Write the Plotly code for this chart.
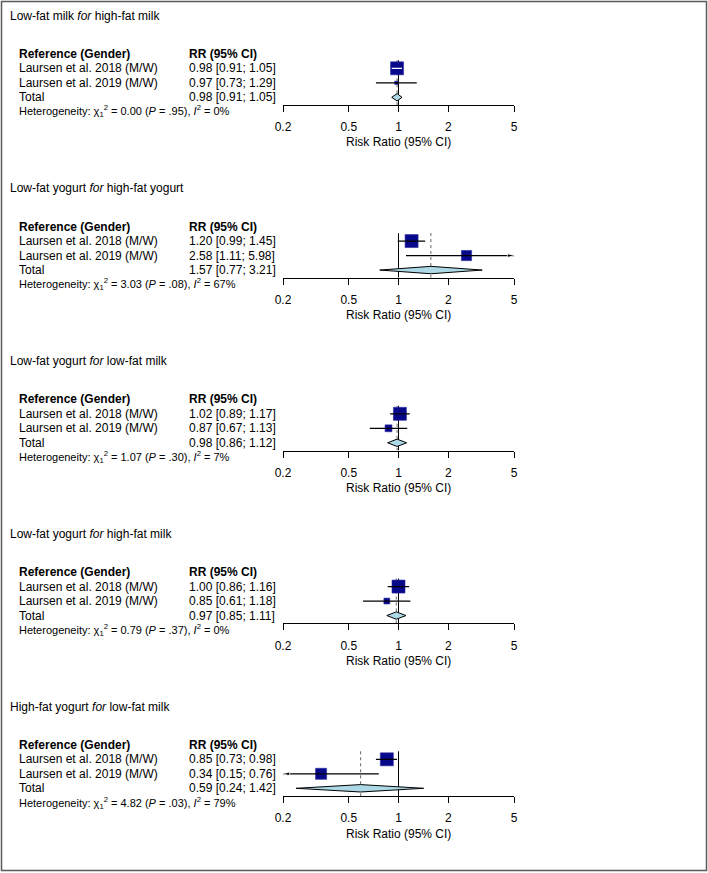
import math
import plotly.graph_objects as go

# ---------------- data ----------------
titles = [
    "Low-fat milk <i>for</i> high-fat milk",
    "Low-fat yogurt <i>for</i> high-fat yogurt",
    "Low-fat yogurt <i>for</i> low-fat milk",
    "Low-fat yogurt <i>for</i> high-fat milk",
    "High-fat yogurt <i>for</i> low-fat milk",
]
studies = ["Laursen et al. 2018 (M/W)", "Laursen et al. 2019 (M/W)"]
rr = [[0.98, 0.97], [1.20, 2.58], [1.02, 0.87], [1.00, 0.85], [0.85, 0.34]]
ci_lo = [[0.91, 0.73], [0.99, 1.11], [0.89, 0.67], [0.86, 0.61], [0.73, 0.15]]
ci_hi = [[1.05, 1.29], [1.45, 5.98], [1.17, 1.13], [1.16, 1.18], [0.98, 0.76]]
weights = [[94, 6], [62, 38], [78, 22], [83, 17], [58, 42]]
total_rr = [0.98, 1.57, 0.98, 0.97, 0.59]
total_lo = [0.91, 0.77, 0.86, 0.85, 0.24]
total_hi = [1.05, 3.21, 1.12, 1.11, 1.42]
chi2 = ["0.00", "3.03", "1.07", "0.79", "4.82"]
pvals = [".95", ".08", ".30", ".37", ".03"]
i2 = [0, 67, 7, 0, 79]
tick_vals = [0.2, 0.5, 1, 2, 5]
tick_text = ["0.2", "0.5", "1", "2", "5"]
axis_title = "Risk Ratio (95% CI)"
col_headers = ["Reference (Gender)", "RR (95% CI)"]

# ---------------- layout constants ----------------
W, H = 708, 873
FONT = "Liberation Sans, Arial, sans-serif"
PANEL_STEP = 172.75
ROW = 14.5            # px between rows
HEADER_PX = 53.8      # header row centre in panel 1
AXIS_PX = 105.0       # axis line in panel 1
X0_PX, X1_PX = 283, 514
XMIN, XMAX = 0.2, 5.0
SQ_MAX = 13.0
NAVY = "#08088a"
DIAMOND = "#add8e6"
TXT_PAD = 2           # annotation inner padding compensation


def px(v):
    return v / W


def py(v):
    return 1 - v / H


fig = go.Figure()
annotations = []
layout_axes = {}

y_top_val = -0.5
y_bot_val = 3 + (AXIS_PX - (HEADER_PX + 3 * ROW)) / ROW
log_span = math.log10(XMAX) - math.log10(XMIN)

for p in range(5):
    off = p * PANEL_STEP
    k = "" if p == 0 else str(p + 1)
    xa, ya = "x" + k, "y" + k
    top_px = HEADER_PX + off + y_top_val * ROW
    bot_px = AXIS_PX + off
    layout_axes["xaxis" + k] = dict(
        type="log", range=[math.log10(XMIN) - 1e-6, math.log10(XMAX) + 1e-6],
        domain=[px(X0_PX), px(X1_PX)], anchor=ya, automargin=False,
        showgrid=False, zeroline=False, showline=True, linecolor="black", linewidth=1,
        ticks="outside", ticklen=6, tickwidth=1, tickcolor="black",
        tickvals=tick_vals, ticktext=tick_text, ticklabelstandoff=5,
        tickfont=dict(family=FONT, size=12, color="black"),
        fixedrange=True,
    )
    layout_axes["yaxis" + k] = dict(
        domain=[py(bot_px), py(top_px)], range=[y_bot_val, y_top_val],
        visible=False, anchor=xa, fixedrange=True, automargin=False,
    )

    # reference lines
    y_line_top = 1 - 8 / ROW
    fig.add_trace(go.Scatter(x=[1, 1], y=[y_line_top, y_bot_val], mode="lines",
                             line=dict(color="black", width=1), xaxis=xa, yaxis=ya,
                             showlegend=False, hoverinfo="skip", cliponaxis=False))
    fig.add_trace(go.Scatter(x=[total_rr[p], total_rr[p]], y=[y_line_top, y_bot_val], mode="lines",
                             line=dict(color="#666666", width=1, dash="dot"), xaxis=xa, yaxis=ya,
                             showlegend=False, hoverinfo="skip", cliponaxis=False))

    # diamond for total
    h = 3.7 / ROW
    fig.add_trace(go.Scatter(
        x=[total_lo[p], total_rr[p], total_hi[p], total_rr[p], total_lo[p]],
        y=[3, 3 - h, 3, 3 + h, 3], mode="lines", fill="toself", fillcolor=DIAMOND,
        line=dict(color="black", width=1), xaxis=xa, yaxis=ya,
        showlegend=False, hoverinfo="skip", cliponaxis=False))

    wmax = max(weights[p])
    for r in range(2):
        yv = r + 1
        size = SQ_MAX * math.sqrt(weights[p][r] / wmax)
        fig.add_trace(go.Scatter(x=[rr[p][r]], y=[yv], mode="markers",
                                 marker=dict(symbol="square", size=size, color=NAVY,
                                             line=dict(color="#2a2aa0", width=0.6)),
                                 xaxis=xa, yaxis=ya, showlegend=False, hoverinfo="skip",
                                 cliponaxis=False))
        lo_c = max(ci_lo[p][r], XMIN)
        hi_c = min(ci_hi[p][r], XMAX)
        ci_px = (math.log10(ci_hi[p][r]) - math.log10(ci_lo[p][r])) / log_span * (X1_PX - X0_PX)
        lcol = "white" if ci_px < size else "black"
        fig.add_trace(go.Scatter(x=[lo_c, hi_c], y=[yv, yv], mode="lines",
                                 line=dict(color=lcol, width=1.3), xaxis=xa, yaxis=ya,
                                 showlegend=False, hoverinfo="skip", cliponaxis=False))
        if ci_hi[p][r] > XMAX:
            fig.add_trace(go.Scatter(x=[rr[p][r], hi_c], y=[yv, yv], mode="markers",
                                     marker=dict(symbol="arrow", size=[0, 7], angleref="previous",
                                                 color="black"),
                                     xaxis=xa, yaxis=ya, showlegend=False, hoverinfo="skip",
                                     cliponaxis=False))
        if ci_lo[p][r] < XMIN:
            fig.add_trace(go.Scatter(x=[rr[p][r], lo_c], y=[yv, yv], mode="markers",
                                     marker=dict(symbol="arrow", size=[0, 7], angleref="previous",
                                                 color="black"),
                                     xaxis=xa, yaxis=ya, showlegend=False, hoverinfo="skip",
                                     cliponaxis=False))

    # texts
    def txt(x, y, text, yref, size=12, bold=False):
        annotations.append(dict(
            x=px(x - TXT_PAD), xref="paper", y=y, yref=yref,
            text=("<b>%s</b>" % text) if bold else text,
            showarrow=False, xanchor="left", yanchor="middle",
            font=dict(family=FONT, size=size, color="black")))

    txt(10, py(15.7 + off), titles[p], "paper")
    txt(19, 0, col_headers[0], ya, bold=True)
    txt(189, 0, col_headers[1], ya, bold=True)
    for r in range(2):
        txt(19, r + 1, studies[r], ya)
        txt(189, r + 1, "%.2f [%.2f; %.2f]" % (rr[p][r], ci_lo[p][r], ci_hi[p][r]), ya)
    txt(19, 3, "Total", ya)
    txt(189, 3, "%.2f [%.2f; %.2f]" % (total_rr[p], total_lo[p], total_hi[p]), ya)
    het = ("Heterogeneity: χ<sub>1</sub><sup>2</sup> = %s (<i>P</i> = %s), <i>I</i><sup>2</sup> = %d%%"
           % (chi2[p], pvals[p], i2[p]))
    txt(19, py(111.5 + off), het, "paper", size=11)
    annotations.append(dict(
        x=px((X0_PX + X1_PX) / 2), xref="paper", y=py(142.5 + off), yref="paper",
        text=axis_title, showarrow=False, xanchor="center", yanchor="middle",
        font=dict(family=FONT, size=12, color="black")))

fig.update_layout(
    width=W, height=H, autosize=False,
    margin=dict(l=0, r=0, t=0, b=0, pad=0, autoexpand=False),
    paper_bgcolor="white", plot_bgcolor="rgba(0,0,0,0)",
    showlegend=False, annotations=annotations,
    shapes=[dict(type="rect", xref="paper", yref="paper",
                 x0=px(1.5), x1=px(706.5), y0=py(870.5), y1=py(1.5),
                 line=dict(color="#5a5a5a", width=1.5), fillcolor="rgba(0,0,0,0)")],
    **layout_axes,
)

page_css = "margin:0;padding:0;overflow:hidden;width:%dpx;height:%dpx;" % (W, H)
fig.write_html(
    "out.html",
    config={"responsive": False, "displayModeBar": False},
    post_script=(
        "document.documentElement.style.cssText='%s';"
        "document.body.style.cssText='%s';" % (page_css, page_css)
    ),
)
